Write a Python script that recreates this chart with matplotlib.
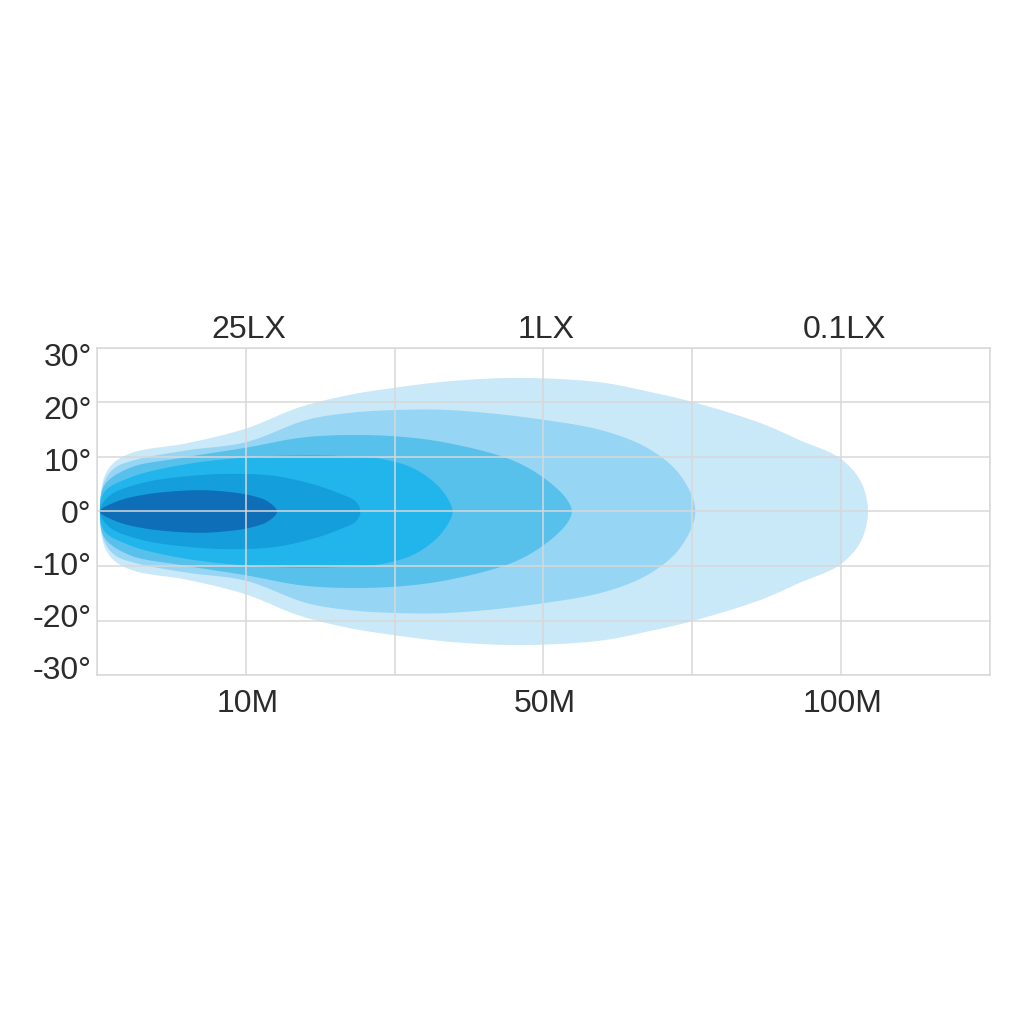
import numpy as np
import matplotlib.pyplot as plt
from matplotlib.patches import Polygon

plt.rcParams['font.family'] = ['Liberation Sans', 'DejaVu Sans']

# beam contours, outermost first: distance (grid units) and upper half-angle (deg)
lightest_x = [0.02, 0.05, 0.12, 0.25, 0.6, 1.0, 1.36, 1.70, 2.0, 2.37, 2.84, 3.38, 3.72, 4.0, 4.46, 4.72, 4.99, 5.13, 5.18]
lightest_y = [0, 6.4, 9.1, 10.9, 12.5, 15.2, 19.1, 21.4, 22.7, 23.9, 24.5, 23.7, 21.9, 20.1, 16.2, 13.1, 9.8, 5.6, 0]

light_x = [0.02, 0.05, 0.12, 0.25, 0.6, 1.0, 1.41, 1.70, 2.0, 2.37, 2.98, 3.43, 3.72, 3.92, 4.02]
light_y = [0, 5.5, 8.0, 9.4, 11.2, 12.7, 16.8, 18.1, 18.6, 18.6, 16.9, 14.6, 11.3, 6.6, 0]

medium_x = [0.02, 0.05, 0.22, 0.56, 1.0, 1.36, 1.63, 2.0, 2.35, 2.79, 3.02, 3.16, 3.19]
medium_y = [0, 4.8, 8.0, 9.8, 11.7, 13.5, 14.0, 13.8, 12.6, 9.4, 5.8, 2.1, 0]

bright_x = [0.02, 0.05, 0.22, 0.56, 1.0, 1.41, 1.70, 1.90, 2.12, 2.28, 2.36, 2.39]
bright_y = [0, 3.6, 6.2, 8.5, 9.9, 10.3, 10.1, 9.7, 8.0, 5.0, 2.2, 0]

deep_x = [0.02, 0.08, 0.3, 0.66, 0.96, 1.20, 1.45, 1.63, 1.74, 1.77]
deep_y = [0, 2.8, 5.2, 6.6, 6.9, 6.5, 5.0, 3.3, 1.8, 0]

core_x = [0.02, 0.12, 0.32, 0.66, 0.88, 1.04, 1.15, 1.21]
core_y = [0, 1.7, 3.1, 3.9, 3.6, 2.9, 1.8, 0]

layers = [
    (lightest_x, lightest_y, '#c9e8f8'),
    (light_x, light_y, '#97d5f4'),
    (medium_x, medium_y, '#57c1ec'),
    (bright_x, bright_y, '#21b5ec'),
    (deep_x, deep_y, '#159edc'),
    (core_x, core_y, '#0e6fb8'),
]

x_tick_pos = [1, 3, 5]
x_tick_labels = ['10M', '50M', '100M']
lux_labels = ['25LX', '1LX', '0.1LX']
y_ticks = [30, 20, 10, 0, -10, -20, -30]

# roughly pixel scale per unit, so the spline spacing is even on screen
SX, SY = 149.0, 5.45


def outline(xs, ys, steps=24):
    # closed centripetal catmull-rom through the upper side and its mirror
    px = list(xs) + list(xs[-2:0:-1])
    py = list(ys) + [-v for v in ys[-2:0:-1]]
    pts = np.column_stack([np.array(px) * SX, np.array(py) * SY])
    n = len(pts)
    out = []
    for i in range(n):
        p0, p1, p2, p3 = pts[(i - 1) % n], pts[i], pts[(i + 1) % n], pts[(i + 2) % n]
        t0 = 0.0
        t1 = t0 + np.linalg.norm(p1 - p0) ** 0.5
        t2 = t1 + np.linalg.norm(p2 - p1) ** 0.5
        t3 = t2 + np.linalg.norm(p3 - p2) ** 0.5
        for t in np.linspace(t1, t2, steps, endpoint=False):
            a1 = (t1 - t) / (t1 - t0) * p0 + (t - t0) / (t1 - t0) * p1
            a2 = (t2 - t) / (t2 - t1) * p1 + (t - t1) / (t2 - t1) * p2
            a3 = (t3 - t) / (t3 - t2) * p2 + (t - t2) / (t3 - t2) * p3
            b1 = (t2 - t) / (t2 - t0) * a1 + (t - t0) / (t2 - t0) * a2
            b2 = (t3 - t) / (t3 - t1) * a2 + (t - t1) / (t3 - t1) * a3
            out.append((t2 - t) / (t2 - t1) * b1 + (t - t1) / (t2 - t1) * b2)
    out = np.array(out)
    out[:, 0] /= SX
    out[:, 1] /= SY
    return out


fig = plt.figure(figsize=(10.24, 10.24), dpi=100)
ax = fig.add_axes([0.0947, 0.3408, 0.8721, 0.3194])

for xs, ys, col in layers:
    ax.add_patch(Polygon(outline(xs, ys), closed=True, facecolor=col, edgecolor='none', zorder=1))

ax.set_xlim(0, 6)
ax.set_ylim(-30, 30)
ax.set_xticks(range(7))
ax.set_yticks(y_ticks)
ax.grid(True, color='#d8d8d8', linewidth=1.1, zorder=3)
ax.set_axisbelow(False)
for sp in ax.spines.values():
    sp.set_color('#d8d8d8')
    sp.set_linewidth(1.1)

ax.set_xticklabels([])
ax.set_yticklabels([])
ax.tick_params(length=0)

ytrans = ax.get_yaxis_transform()
for v in y_ticks:
    ax.text(-0.006, v * 0.957, f'{v}°', transform=ytrans, ha='right', va='center_baseline',
            fontsize=23, color='#2b2b2b')

for pos, lab in zip(x_tick_pos, x_tick_labels):
    ax.text(pos + 0.01, -32.6, lab, ha='center', va='top', fontsize=23, color='#2b2b2b')
for pos, lab in zip(x_tick_pos, lux_labels):
    ax.text(pos + 0.02, 31.9, lab, ha='center', va='baseline', fontsize=23, color='#2b2b2b')

fig.savefig('out.png', dpi=100, facecolor='white')
